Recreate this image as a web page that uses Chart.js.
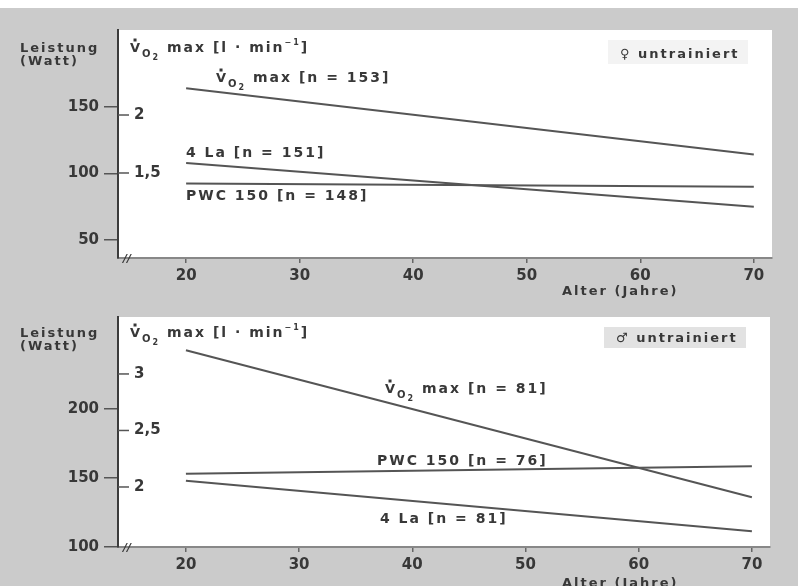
<!DOCTYPE html>
<html>
<head>
<meta charset="utf-8">
<script src="https://cdn.jsdelivr.net/npm/chart.js@4"></script>
<style>
  html, body { margin: 0; padding: 0; background: #fff; }
  #wrap { position: relative; width: 798px; height: 586px; overflow: hidden; }
  canvas { position: absolute; left: 0; }
</style>
</head>
<body>
<div id="wrap">
  <canvas id="topChart" width="798" height="300" style="top:0"></canvas>
  <canvas id="bottomChart" width="798" height="286" style="top:300px"></canvas>
</div>
<script>
const ages = [20, 70];
const xTicks = [20, 30, 40, 50, 60, 70];

// oben: untrainierte Frauen
const topVo2 = [2.23, 1.66];      // l/min
const topLa = [108, 75];          // Watt
const topPwc = [92.5, 90];        // Watt
const topWattTicks = [50, 100, 150];
const topVo2Ticks = [1.5, 2];

// unten: untrainierte Männer
const botVo2 = [3.21, 1.91];
const botPwc = [153, 158.5];
const botLa = [148, 111.5];
const botWattTicks = [100, 150, 200];
const botVo2Ticks = [2, 2.5, 3];

const FONT = '"DejaVu Sans", sans-serif';
const INK = '#383838';
const LINE = '#555';

function pts(ys) {
  return ys.map((y, i) => ({x: ages[i], y: y}));
}

// text with sub/superscripts, parts: {t, s, dy, dot}
function rich(ctx, x, y, parts, sp) {
  ctx.save();
  ctx.fillStyle = INK;
  ctx.textBaseline = 'alphabetic';
  ctx.textAlign = 'left';
  ctx.letterSpacing = (sp || 2) + 'px';
  for (const p of parts) {
    const s = p.s || 14;
    ctx.font = 'bold ' + s + 'px ' + FONT;
    ctx.fillText(p.t, x, y + (p.dy || 0));
    const w = ctx.measureText(p.t).width;
    if (p.dot) ctx.fillRect(x + w / 2 - 2.5, y + (p.dy || 0) - s * 0.73 - 4, 3, 3);
    x += w;
  }
  ctx.restore();
}

function vo2(rest) {
  return [{t: 'V', s: 13, dot: true}, {t: 'O', s: 10, dy: 5}, {t: '2', s: 8, dy: 8}, {t: ' ' + rest}];
}

const panelPlugin = {
  id: 'panel',
  beforeDraw(chart, args, o) {
    const {ctx, chartArea: a, width, height} = chart;
    ctx.save();
    ctx.fillStyle = '#cbcbcb';
    ctx.fillRect(0, 0, width, height);
    if (o.topWhite) {
      ctx.fillStyle = '#fff';
      ctx.fillRect(0, 0, width, 8);
    }
    ctx.fillStyle = '#fff';
    ctx.fillRect(a.left, a.top, a.right - a.left, a.bottom - a.top);
    // legend box
    ctx.fillStyle = o.boxFill;
    ctx.fillRect(o.box[0], o.box[1], o.box[2], o.box[3]);
    ctx.restore();
  },
  afterDraw(chart, args, o) {
    const {ctx, chartArea: a} = chart;
    const y2 = chart.scales.y2;
    ctx.save();
    // inner V̇O2 scale
    ctx.strokeStyle = '#555';
    ctx.lineWidth = 1.5;
    ctx.fillStyle = INK;
    ctx.font = 'bold 15px ' + FONT;
    ctx.textBaseline = 'middle';
    for (const v of o.vo2Ticks) {
      const py = y2.getPixelForValue(v);
      ctx.beginPath();
      ctx.moveTo(a.left, py);
      ctx.lineTo(a.left + 11, py);
      ctx.stroke();
      ctx.fillText(String(v).replace('.', ','), a.left + 16, py);
    }
    // axis break
    ctx.font = 'italic bold 11px ' + FONT;
    ctx.textBaseline = 'alphabetic';
    ctx.fillText('//', a.left + 5, a.bottom + 4);
    ctx.restore();

    rich(ctx, 20, o.lei, [{t: 'Leistung', s: 13}]);
    rich(ctx, 20, o.lei + 13, [{t: '(Watt)', s: 13}]);
    rich(ctx, 130, o.lei, vo2('max [l · min').concat([{t: '−1', s: 8, dy: -7}, {t: ']'}]));
    for (const l of o.labels) rich(ctx, l.x, l.y, l.parts);
    rich(ctx, o.box[0] + 12, o.box[1] + o.box[3] - 6, [{t: o.sex + ' untrainiert', s: 13}]);
    rich(ctx, 562, o.alter, [{t: 'Alter (Jahre)', s: 13}]);
  }
};

function panel(id, d) {
  return new Chart(document.getElementById(id), {
    type: 'line',
    data: {
      datasets: [
        {data: pts(d.vo2), yAxisID: 'y2', borderColor: LINE, borderWidth: 2},
        {data: pts(d.la), yAxisID: 'y', borderColor: LINE, borderWidth: 2},
        {data: pts(d.pwc), yAxisID: 'y', borderColor: LINE, borderWidth: 2}
      ]
    },
    options: {
      responsive: false,
      animation: false,
      events: [],
      elements: {point: {radius: 0}, line: {tension: 0}},
      layout: {padding: d.padding},
      plugins: {legend: {display: false}, tooltip: {enabled: false}, panel: d.deco},
      scales: {
        x: {
          type: 'linear', min: 14, max: 71.6,
          afterBuildTicks: s => { s.ticks = xTicks.map(v => ({value: v})); },
          afterFit: s => { s.height = 30; },
          grid: {drawOnChartArea: false, tickLength: 5, color: '#666', lineWidth: 1.5},
          border: {color: '#888', width: 2},
          ticks: {font: {family: FONT, size: 15, weight: 'bold'}, color: INK, padding: 4, maxRotation: 0}
        },
        y: {
          type: 'linear', position: 'left', min: d.wMin, max: d.wMax,
          afterBuildTicks: s => { s.ticks = d.wTicks.map(v => ({value: v})); },
          afterFit: s => { s.width = 60; },
          grid: {drawOnChartArea: false, tickLength: 14, color: '#555', lineWidth: 1.5},
          border: {color: '#3c3c3c', width: 2},
          ticks: {font: {family: FONT, size: 15, weight: 'bold'}, color: INK, padding: 5}
        },
        y2: {type: 'linear', display: false, min: d.vMin, max: d.vMax}
      }
    },
    plugins: [panelPlugin]
  });
}

panel('topChart', {
  vo2: topVo2, la: topLa, pwc: topPwc,
  wMin: 36.5, wMax: 208, wTicks: topWattTicks,
  vMin: 0.767, vMax: 2.733,
  padding: {left: 58, right: 26, top: 30, bottom: 12},
  deco: {
    topWhite: true, vo2Ticks: topVo2Ticks, lei: 52, alter: 295,
    box: [608, 40, 140, 24], boxFill: '#f3f3f3', sex: '♀',
    labels: [
      {x: 216, y: 82, parts: vo2('max [n = 153]')},
      {x: 186, y: 157, parts: [{t: '4 La [n = 151]'}]},
      {x: 186, y: 200, parts: [{t: 'PWC 150 [n = 148]'}]}
    ]
  }
});

panel('bottomChart', {
  vo2: botVo2, la: botLa, pwc: botPwc,
  wMin: 100, wMax: 266.7, wTicks: botWattTicks,
  vMin: 1.469, vMax: 3.504,
  padding: {left: 58, right: 28, top: 17, bottom: 9},
  deco: {
    topWhite: false, vo2Ticks: botVo2Ticks, lei: 37, alter: 287,
    box: [604, 27, 142, 21], boxFill: '#e2e2e2', sex: '♂',
    labels: [
      {x: 385, y: 93, parts: vo2('max [n = 81]')},
      {x: 377, y: 165, parts: [{t: 'PWC 150 [n = 76]'}]},
      {x: 380, y: 223, parts: [{t: '4 La [n = 81]'}]}
    ]
  }
});
</script>
</body>
</html>
